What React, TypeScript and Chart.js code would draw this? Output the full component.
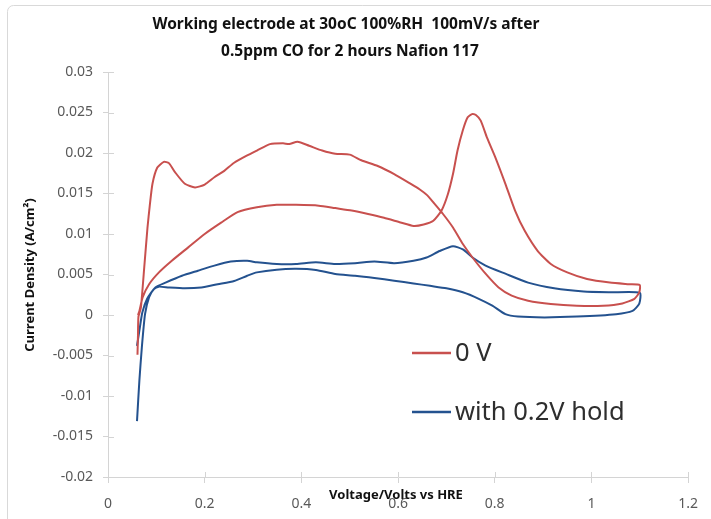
import { useEffect, useRef } from "react";
import { Chart, registerables } from "chart.js";

Chart.register(...registerables);

const chartTitle = [
  "Working electrode at 30oC 100%RH  100mV/s after",
  "0.5ppm CO for 2 hours Nafion 117",
];
const xAxisTitle = "Voltage/Volts vs HRE";
const yAxisTitle = "Current Density (A/cm²)";
const seriesNames = ["0 V", "with 0.2V hold"];
const seriesColors = ["#C8504E", "#24528F"];

const xMin = 0;
const xMax = 1.2;
const xStep = 0.2;
const yMin = -0.02;
const yMax = 0.03;
const yStep = 0.005;

// 0 V cycle: potential (V) and current density (A/cm²), in sweep order
const zeroV = [
  0.061, 0.062, 0.063, 0.068, 0.075, 0.0817, 0.0864, 0.092, 0.102, 0.1155,
  0.126, 0.139, 0.159, 0.18, 0.2, 0.22, 0.2405, 0.261, 0.288, 0.308,
  0.335, 0.362, 0.375, 0.392, 0.416, 0.443, 0.47, 0.5, 0.524, 0.558,
  0.592, 0.626, 0.645, 0.66, 0.673, 0.693, 0.7136, 0.734, 0.754, 0.781,
  0.808, 0.835, 0.869, 0.916, 0.97, 1.024, 1.064, 1.089, 1.099, 1.1,
  1.078, 1.038, 0.991, 0.95, 0.916, 0.889, 0.862, 0.842, 0.822, 0.801,
  0.784, 0.771, 0.761, 0.753, 0.744, 0.734, 0.723, 0.7136, 0.703, 0.69,
  0.673, 0.653, 0.632, 0.605, 0.571, 0.538, 0.504, 0.47, 0.436, 0.389,
  0.349, 0.308, 0.268, 0.234, 0.2, 0.166, 0.132, 0.1054, 0.085, 0.0716,
  0.065, 0.062,
];
const zeroJ = [
  -0.0049, -0.0025, -0.0002, 0.0009, 0.0059, 0.0108, 0.0135, 0.0162, 0.0182, 0.0189,
  0.01875, 0.0176, 0.0162, 0.01575, 0.0161, 0.017, 0.0178, 0.0188, 0.0197, 0.0203,
  0.0211, 0.0212, 0.0211, 0.0214, 0.0209, 0.0203, 0.0199, 0.0198, 0.0191, 0.0184,
  0.0174, 0.0162, 0.0155, 0.0148, 0.0139, 0.01247, 0.0108, 0.00876, 0.0071, 0.0051,
  0.0034, 0.0024, 0.00177, 0.00136, 0.00115, 0.00115, 0.00143, 0.002, 0.0028, 0.0037,
  0.0038, 0.004, 0.00444, 0.00526, 0.0063, 0.0079, 0.0104, 0.0129, 0.0162, 0.0195,
  0.0219, 0.024, 0.0247, 0.0248, 0.0244, 0.0228, 0.0203, 0.0174, 0.0149, 0.0129,
  0.01164, 0.01118, 0.011, 0.01143, 0.012, 0.01247, 0.0129, 0.0132, 0.0135, 0.0136,
  0.0136, 0.0133, 0.0127, 0.0114, 0.01, 0.00835, 0.0067, 0.00526, 0.0038, 0.00217,
  0.0005, 0.0,
];

// Cycle after the 0.2 V hold
const holdV = [
  0.06, 0.0649, 0.07, 0.0766, 0.085, 0.095, 0.105, 0.126, 0.159, 0.193,
  0.227, 0.261, 0.288, 0.308, 0.349, 0.389, 0.43, 0.47, 0.511, 0.551,
  0.592, 0.632, 0.666, 0.7, 0.734, 0.767, 0.795, 0.822, 0.848, 0.903,
  0.97, 1.051, 1.085, 1.099, 1.1, 1.038, 0.984, 0.923, 0.869, 0.822,
  0.781, 0.754, 0.734, 0.7136, 0.686, 0.659, 0.632, 0.592, 0.551, 0.511,
  0.47, 0.43, 0.389, 0.349, 0.308, 0.288, 0.254, 0.22, 0.186, 0.153,
  0.119, 0.098, 0.081, 0.071, 0.065, 0.06,
];
const holdJ = [
  -0.0131, -0.0081, -0.004, 0.0001, 0.0022, 0.0032, 0.0035, 0.0034, 0.0033, 0.0034,
  0.0038, 0.0042, 0.00485, 0.00526, 0.0056, 0.0057, 0.00556, 0.00506, 0.00485, 0.00457,
  0.00423, 0.0039, 0.0036, 0.0033, 0.0028, 0.002, 0.00115, 0.0001, -0.0002, -0.0003,
  -0.0002, 0.0001, 0.0005, 0.0014, 0.00275, 0.0028, 0.0029, 0.0033, 0.004, 0.0051,
  0.0061, 0.0071, 0.0081, 0.0085, 0.0079, 0.0071, 0.0067, 0.0064, 0.0066, 0.0064,
  0.0063, 0.0065, 0.0063, 0.0063, 0.0065, 0.0067, 0.0066, 0.0061, 0.00547, 0.00485,
  0.004, 0.0034, 0.002, 0.0003, -0.0019, -0.0038,
];

const FONT = "'Noto Sans', 'Open Sans', sans-serif";
const AXIS_GREY = "#D4D4D4";
const LABEL_GREY = "#595959";

const toPoints = (xs: number[], ys: number[]) => xs.map((x, i) => ({ x, y: ys[i] }));
const fmt = (v: number) => String(Number(v.toFixed(3)));

// Rounded outer frame of the chart object
const framePlugin = {
  id: "frame",
  beforeDraw(chart: Chart) {
    const { ctx, width, height } = chart;
    ctx.save();
    ctx.fillStyle = "#ffffff";
    ctx.fillRect(0, 0, width, height);
    ctx.strokeStyle = "#D9D9D9";
    ctx.lineWidth = 1;
    ctx.beginPath();
    ctx.roundRect(7.5, 5.5, width + 20, height + 20, 6);
    ctx.stroke();
    ctx.restore();
  },
};

// Tick marks that cross the axis lines (inner half)
const crossTicksPlugin = {
  id: "crossTicks",
  afterDraw(chart: Chart) {
    const { ctx, chartArea } = chart;
    const xs = chart.scales.x;
    const ys = chart.scales.y;
    ctx.save();
    ctx.strokeStyle = AXIS_GREY;
    ctx.lineWidth = 1;
    ctx.beginPath();
    xs.ticks.forEach((_, i) => {
      const px = Math.round(xs.getPixelForTick(i)) + 0.5;
      ctx.moveTo(px, chartArea.bottom);
      ctx.lineTo(px, chartArea.bottom - 5);
    });
    ys.ticks.forEach((_, i) => {
      const py = Math.round(ys.getPixelForTick(i)) + 0.5;
      ctx.moveTo(chartArea.left, py);
      ctx.lineTo(chartArea.left + 6, py);
    });
    ctx.stroke();
    ctx.restore();
  },
};

// Title, axis titles and the in-plot legend
const textPlugin = {
  id: "texts",
  afterDraw(chart: Chart) {
    const { ctx } = chart;
    ctx.save();
    ctx.fillStyle = "#111111";
    ctx.textAlign = "center";
    ctx.textBaseline = "middle";
    ctx.font = `bold 15.5px ${FONT}`;
    ctx.fillText(chartTitle[0], 346, 25);
    ctx.fillText(chartTitle[1], 350, 52);

    ctx.font = `bold 13px ${FONT}`;
    ctx.fillText(xAxisTitle, 396, 495);
    ctx.save();
    ctx.translate(30, 275);
    ctx.rotate(-Math.PI / 2);
    ctx.fillText(yAxisTitle, 0, 0);
    ctx.restore();

    const rows = [353, 412];
    ctx.font = `25.5px ${FONT}`;
    ctx.textAlign = "left";
    chart.data.datasets.forEach((ds, i) => {
      const y = rows[i];
      ctx.strokeStyle = ds.borderColor as string;
      ctx.lineWidth = 2.5;
      ctx.beginPath();
      ctx.moveTo(412, y);
      ctx.lineTo(451, y);
      ctx.stroke();
      ctx.fillStyle = "#2E2E2E";
      ctx.fillText(ds.label as string, 455, y + 1);
    });
    ctx.restore();
  },
};

export default function App() {
  const canvasRef = useRef<HTMLCanvasElement>(null);

  useEffect(() => {
    const canvas = canvasRef.current;
    if (!canvas) return;
    const chart = new Chart(canvas, {
      type: "scatter",
      data: {
        datasets: [
          {
            label: seriesNames[0],
            data: toPoints(zeroV, zeroJ),
            borderColor: seriesColors[0],
            backgroundColor: seriesColors[0],
            showLine: true,
            borderWidth: 2,
            pointRadius: 0,
            tension: 0.2,
          },
          {
            label: seriesNames[1],
            data: toPoints(holdV, holdJ),
            borderColor: seriesColors[1],
            backgroundColor: seriesColors[1],
            showLine: true,
            borderWidth: 2,
            pointRadius: 0,
            tension: 0.2,
          },
        ],
      },
      options: {
        animation: false,
        responsive: true,
        maintainAspectRatio: false,
        layout: { padding: { top: 72, right: 11, left: 0, bottom: 0 } },
        plugins: {
          legend: { display: false },
          title: { display: false },
          tooltip: { enabled: false },
        },
        scales: {
          x: {
            type: "linear",
            min: xMin,
            max: xMax,
            afterFit: (scale: any) => {
              scale.height = 42;
            },
            ticks: {
              stepSize: xStep,
              padding: 13,
              color: LABEL_GREY,
              font: { family: FONT, size: 14 },
              callback: (v: any) => fmt(Number(v)),
            },
            grid: {
              drawOnChartArea: false,
              drawTicks: true,
              tickLength: 6,
              color: AXIS_GREY,
            },
            border: { display: true, color: AXIS_GREY, width: 1 },
          },
          y: {
            type: "linear",
            min: yMin,
            max: yMax,
            afterFit: (scale: any) => {
              scale.width = 108;
            },
            ticks: {
              stepSize: yStep,
              padding: 10,
              color: LABEL_GREY,
              font: { family: FONT, size: 14 },
              callback: (v: any) => fmt(Number(v)),
            },
            grid: {
              drawOnChartArea: false,
              drawTicks: true,
              tickLength: 5,
              color: AXIS_GREY,
            },
            border: { display: true, color: AXIS_GREY, width: 1 },
          },
        },
      },
      plugins: [framePlugin, crossTicksPlugin, textPlugin],
    });
    return () => chart.destroy();
  }, []);

  return (
    <div
      style={{
        position: "fixed",
        left: 0,
        top: 0,
        width: 711,
        height: 519,
        background: "#ffffff",
      }}
    >
      <canvas ref={canvasRef} />
    </div>
  );
}
